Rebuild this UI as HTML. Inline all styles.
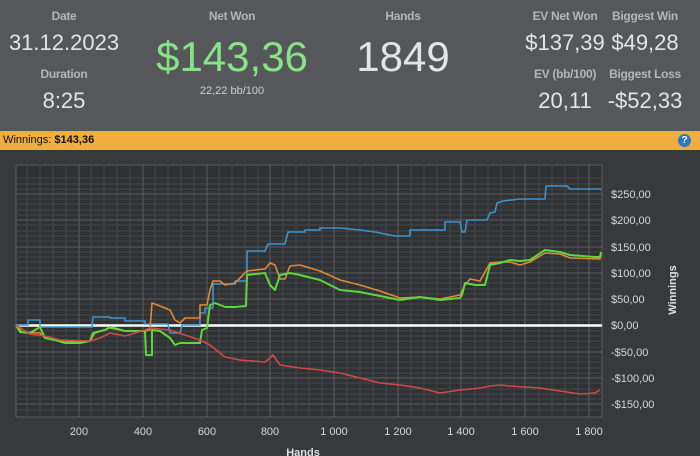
<!DOCTYPE html>
<html><head><meta charset="utf-8"><style>
body{margin:0;width:700px;height:456px;overflow:hidden;background:#55575b;font-family:"Liberation Sans",sans-serif}
.t{position:absolute;text-align:center;transform:translateX(-50%);white-space:nowrap}
.l{color:#b4b6b9;font-size:12px;font-weight:bold;letter-spacing:-0.3px}
.v{color:#e4e4e4;font-size:22px}
</style></head><body>
<div style="position:relative;width:700px;height:131px;background:#55575b">
<div class="t l" style="left:64px;top:9px">Date</div>
<div class="t v" style="left:64px;top:30px">31.12.2023</div>
<div class="t l" style="left:64px;top:67px">Duration</div>
<div class="t v" style="left:64px;top:88px">8:25</div>
<div class="t l" style="left:232px;top:9px">Net Won</div>
<div class="t" style="left:232px;top:33px;color:#86e486;font-size:42px">$143,36</div>
<div class="t" style="left:232px;top:85px;color:#d0d0d0;font-size:11px">22,22 bb/100</div>
<div class="t l" style="left:403px;top:9px">Hands</div>
<div class="t" style="left:403px;top:33px;color:#e4e4e4;font-size:42px">1849</div>
<div class="t l" style="left:565px;top:9px">EV Net Won</div>
<div class="t v" style="left:565px;top:30px">$137,39</div>
<div class="t l" style="left:645px;top:9px">Biggest Win</div>
<div class="t v" style="left:645px;top:30px">$49,28</div>
<div class="t l" style="left:565px;top:67px">EV (bb/100)</div>
<div class="t v" style="left:565px;top:88px">20,11</div>
<div class="t l" style="left:645px;top:67px">Biggest Loss</div>
<div class="t v" style="left:645px;top:88px">-$52,33</div>
</div>
<div style="position:absolute;left:0;top:131px;width:700px;height:19px;background:#f1ae3d;font-size:11px;line-height:19px;color:#111">&nbsp;Winnings: <b>$143,36</b>
<div style="position:absolute;left:678px;top:3px;width:13px;height:13px;border-radius:50%;background:#2a78c8;color:#fff;font-size:10px;line-height:13px;text-align:center;font-weight:bold">?</div></div>
<svg style="position:absolute;left:0;top:150px" width="700" height="306" viewBox="0 150 700 306">
<rect x="0" y="150" width="700" height="306" fill="#38393b"/>
<rect x="16" y="165" width="586" height="252" fill="#2f3133" stroke="#5a5c5f"/>
<g stroke="#43464a" stroke-width="1">
<path d="M16 178H602M16 184H602M16 189H602M16 199H602M16 204H602M16 210H602M16 215H602M16 225H602M16 231H602M16 236H602M16 241H602M16 252H602M16 257H602M16 262H602M16 268H602M16 278H602M16 283H602M16 289H602M16 294H602M16 304H602M16 310H602M16 315H602M16 320H602M16 331H602M16 336H602M16 341H602M16 347H602M16 357H602M16 362H602M16 368H602M16 373H602M16 383H602M16 389H602M16 394H602M16 399H602M16 410H602"/>
<path d="M27 165V417M40 165V417M53 165V417M66 165V417M91 165V417M104 165V417M117 165V417M130 165V417M155 165V417M168 165V417M181 165V417M194 165V417M219 165V417M232 165V417M245 165V417M258 165V417M283 165V417M296 165V417M309 165V417M322 165V417M347 165V417M360 165V417M373 165V417M386 165V417M411 165V417M424 165V417M437 165V417M450 165V417M475 165V417M488 165V417M501 165V417M514 165V417M539 165V417M552 165V417M565 165V417M578 165V417"/>
</g>
<g stroke="#5c5f62" stroke-width="1">
<path d="M16 194H602M16 220H602M16 247H602M16 273H602M16 299H602M16 352H602M16 378H602M16 404H602"/>
<path d="M79 165V417M143 165V417M207 165V417M270 165V417M334 165V417M398 165V417M461 165V417M525 165V417M589 165V417"/>
</g>
<line x1="16" y1="325.5" x2="602" y2="325.5" stroke="#fff" stroke-width="2.5"/>
<g fill="none" stroke-width="1.6" stroke-linejoin="round">
<polyline stroke="#3d93cf" points="16,325 28,325 28,320 40,320 40,327 92,327 93,317 110,317 110,318 125,318 125,321 145,321 145,324 168,324 170,333 180,333 182,325 200,325 200,313 205,313 205,308 213,308 213,284 235,284 235,281 247,281 247,251 265,251 268,244 285,244 288,232 305,232 305,230 320,230 320,228 340,228 360,230 375,232 395,236 410,236 410,230 445,230 445,222 460,222 462,232 465,232 467,220 487,220 490,213 495,212 497,203 503,201 520,199 545,199 546,186 567,186 570,189 600,189 601,190"/>
<polyline stroke="#e0893a" points="16,325 22,332 40,333 45,338 65,342 90,341 95,333 110,328 125,331 145,331 150,330 152,303 160,306 170,310 175,320 180,323 185,318 200,318 200,305 207,305 210,290 213,281 220,281 225,285 235,283 247,271 265,269 270,263 275,265 280,279 285,279 290,266 300,265 310,268 320,271 340,280 360,285 380,291 400,298 420,297 440,299 460,295 465,285 470,279 480,281 490,263 500,262 510,262 520,265 530,262 545,253 560,254 570,258 600,259 601,254"/>
<polyline stroke="#5bd83a" stroke-width="2" points="16,325 20,332 30,333 35,330 40,327 45,338 55,340 65,343 80,343 90,341 93,333 105,330 110,327 125,331 145,331 146,355 152,355 152,330 160,331 170,338 175,345 180,343 200,343 202,330 207,328 210,305 215,303 225,307 235,307 246,306 247,275 265,273 270,285 275,290 280,275 290,273 300,275 320,280 340,290 360,292 380,296 400,300 420,297 440,300 460,298 462,295 465,283 475,285 485,285 490,265 500,263 510,260 520,261 530,260 545,250 560,252 570,255 595,257 600,257 601,252"/>
<polyline stroke="#d04a47" points="16,325 30,334 45,336 60,340 90,341 100,338 110,333 125,336 145,330 150,328 170,330 185,335 200,340 210,345 225,357 240,360 265,362 270,358 273,355 280,365 300,368 320,370 340,373 360,378 380,383 400,385 420,388 440,393 460,390 480,388 490,386 500,385 510,386 540,388 560,391 580,394 595,393 600,390"/>
</g>
<g fill="#d8d8d8" font-size="11" text-anchor="middle">
<text x="79" y="435">200</text><text x="143" y="435">400</text><text x="207" y="435">600</text><text x="270" y="435">800</text><text x="334" y="435">1 000</text><text x="398" y="435">1 200</text><text x="461" y="435">1 400</text><text x="525" y="435">1 600</text><text x="589" y="435">1 800</text>
</g>
<g fill="#d8d8d8" font-size="11">
<text x="611" y="198">$250,00</text><text x="611" y="224">$200,00</text><text x="611" y="251">$150,00</text><text x="611" y="277">$100,00</text><text x="611" y="303">$50,00</text><text x="611" y="329">$0,00</text><text x="611" y="356">-$50,00</text><text x="611" y="382">-$100,00</text><text x="611" y="408">-$150,00</text>
</g>
<text x="0" y="0" transform="translate(676,290) rotate(-90)" text-anchor="middle" fill="#e0e0e0" font-size="11" font-weight="bold">Winnings</text>
<text x="303" y="456" text-anchor="middle" fill="#e0e0e0" font-size="11" font-weight="bold">Hands</text>
</svg>
</body></html>
